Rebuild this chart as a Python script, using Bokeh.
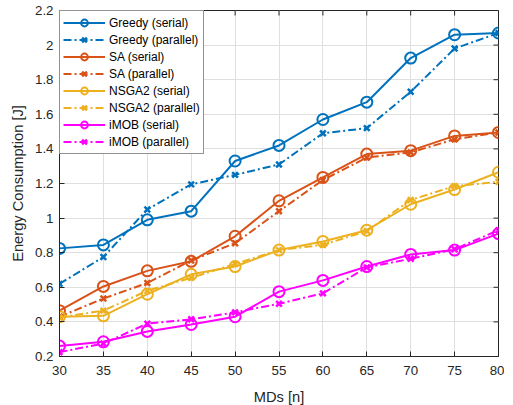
import math
from bokeh.plotting import figure
from bokeh.models import Legend, LegendItem, FixedTicker, Range1d
from bokeh.embed import file_html
from bokeh.resources import INLINE

mds = [30, 35, 40, 45, 50, 55, 60, 65, 70, 75, 80]
greedy_serial = [0.825, 0.845, 0.99, 1.04, 1.33, 1.42, 1.57, 1.67, 1.925, 2.06, 2.07]
greedy_parallel = [0.62, 0.775, 1.05, 1.195, 1.25, 1.31, 1.49, 1.52, 1.73, 1.98, 2.07]
sa_serial = [0.465, 0.605, 0.695, 0.75, 0.895, 1.10, 1.235, 1.37, 1.39, 1.475, 1.495]
sa_parallel = [0.43, 0.535, 0.625, 0.755, 0.855, 1.04, 1.22, 1.35, 1.38, 1.455, 1.495]
nsga2_serial = [0.43, 0.435, 0.56, 0.675, 0.72, 0.815, 0.865, 0.93, 1.08, 1.165, 1.265]
nsga2_parallel = [0.425, 0.465, 0.58, 0.655, 0.735, 0.815, 0.845, 0.925, 1.105, 1.185, 1.21]
imob_serial = [0.26, 0.285, 0.345, 0.385, 0.43, 0.575, 0.64, 0.72, 0.79, 0.815, 0.91]
imob_parallel = [0.225, 0.275, 0.39, 0.415, 0.455, 0.505, 0.565, 0.715, 0.765, 0.82, 0.93]

x_ticks = [30, 35, 40, 45, 50, 55, 60, 65, 70, 75, 80]
y_ticks = [0.2, 0.4, 0.6, 0.8, 1.0, 1.2, 1.4, 1.6, 1.8, 2.0, 2.2]
y_labels = {0.2: "0.2", 0.4: "0.4", 0.6: "0.6", 0.8: "0.8", 1.0: "1", 1.2: "1.2",
            1.4: "1.4", 1.6: "1.6", 1.8: "1.8", 2.0: "2", 2.2: "2.2"}
x_min, x_max = 30, 80
y_min, y_max = 0.2, 2.2

series = [
    ("Greedy (serial)", greedy_serial, "#0072BD", "solid", "circle"),
    ("Greedy (parallel)", greedy_parallel, "#0072BD", "8 3 2 3", "x"),
    ("SA (serial)", sa_serial, "#D95319", "solid", "circle"),
    ("SA (parallel)", sa_parallel, "#D95319", "8 3 2 3", "x"),
    ("NSGA2 (serial)", nsga2_serial, "#EDB120", "solid", "circle"),
    ("NSGA2 (parallel)", nsga2_parallel, "#EDB120", "8 3 2 3", "x"),
    ("iMOB (serial)", imob_serial, "#FF00FF", "solid", "circle"),
    ("iMOB (parallel)", imob_parallel, "#FF00FF", "8 3 2 3", "x"),
]

FONT = "Liberation Sans"
AX = "#262626"

p = figure(frame_width=439, frame_height=346, output_backend="svg", toolbar_location=None,
           x_range=Range1d(x_min, x_max), y_range=Range1d(y_min, y_max),
           min_border_left=59, min_border_right=6, min_border_top=10, min_border_bottom=10)
p.outline_line_color = AX
p.outline_line_width = 1
p.background_fill_color = "white"
p.border_fill_color = "white"

for ax in (p.xaxis[0], p.yaxis[0]):
    ax.major_tick_in = 5
    ax.major_tick_out = 0
    ax.minor_tick_line_color = None
    ax.axis_line_color = AX
    ax.major_tick_line_color = AX
    ax.major_label_text_color = AX
    ax.major_label_text_font = FONT
    ax.major_label_text_font_size = "13.3px"
    ax.axis_label_text_font = FONT
    ax.axis_label_text_font_size = "14.7px"
    ax.axis_label_text_font_style = "normal"
    ax.axis_label_text_color = AX

p.xaxis[0].ticker = FixedTicker(ticks=x_ticks)
p.yaxis[0].ticker = FixedTicker(ticks=y_ticks)
p.yaxis[0].major_label_overrides = y_labels
p.xaxis[0].axis_label = "MDs [n]"
p.yaxis[0].axis_label = "Energy Consumption [J]"
p.xaxis[0].major_label_standoff = 9
p.yaxis[0].major_label_standoff = 6
p.xaxis[0].axis_label_standoff = 11
p.yaxis[0].axis_label_standoff = 6

p.xgrid.ticker = FixedTicker(ticks=x_ticks)
p.ygrid.ticker = FixedTicker(ticks=y_ticks)
p.grid.grid_line_color = "#dfdfdf"
p.grid.grid_line_width = 1

# inward ticks on the top and right edges (half of each marker is clipped by the frame)
p.scatter(x_ticks, [y_max] * len(x_ticks), marker="dash", angle=math.pi / 2, size=10,
          line_color=AX, line_width=1)
p.scatter([x_max] * len(y_ticks), y_ticks, marker="dash", size=10,
          line_color=AX, line_width=1)

items = []
for name, vals, color, dash, marker in series:
    r1 = p.line(mds, vals, line_color=color, line_width=2, line_dash=dash)
    if marker == "circle":
        r2 = p.scatter(mds, vals, marker="circle", size=11, fill_color=None,
                       line_color=color, line_width=2)
    else:
        r2 = p.scatter(mds, vals, marker="x", size=8, line_color=color, line_width=2.5)
    items.append(LegendItem(label=name, renderers=[r1, r2]))

legend = Legend(items=items, location="top_left",
                label_text_font=FONT, label_text_font_size="12px", label_text_color="#000000",
                glyph_width=42, glyph_height=17, label_height=17, spacing=0,
                padding=3, margin=0, label_standoff=4,
                border_line_color="#262626", border_line_width=1,
                background_fill_color="white", background_fill_alpha=1)
p.add_layout(legend)

open("out.html", "w").write(file_html(p, INLINE))
